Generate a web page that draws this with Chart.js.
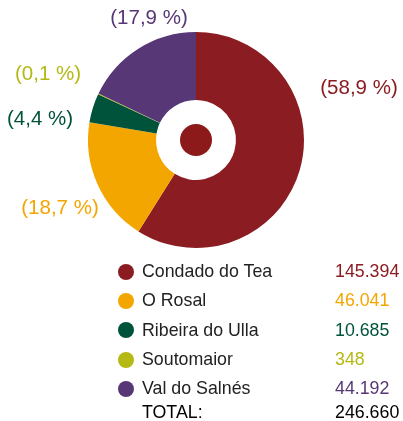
<!DOCTYPE html>
<html><head><meta charset="utf-8">
<script src="https://cdn.jsdelivr.net/npm/chart.js@4/dist/chart.umd.min.js"></script>
<style>
html,body{margin:0;padding:0;background:#fff;}
#wrap{position:relative;width:403px;height:421px;overflow:hidden;font-family:"Liberation Sans",Arial,sans-serif;}
#c{position:absolute;left:0;top:0;}
#legend{position:absolute;left:118px;top:257px;width:285px;font-size:17.8px;color:#222;}
.row{display:flex;align-items:center;height:29.3px;}
.dot{width:16px;height:16px;border-radius:50%;margin-right:8px;flex:none;}
.name{width:193px;}
.total{height:18px;line-height:18px;color:#000;}
.total .name{margin-left:24px;}
</style></head>
<body><div id="wrap"><canvas id="c" width="403" height="421"></canvas><div id="legend"></div></div>
<script>
const categories = ["Condado do Tea","O Rosal","Ribeira do Ulla","Soutomaior","Val do Salnés"];
const values = [145394, 46041, 10685, 348, 44192];
const valueLabels = ["145.394","46.041","10.685","348","44.192"];
const percentLabels = ["(58,9 %)","(18,7 %)","(4,4 %)","(0,1 %)","(17,9 %)"];
const totalLabel = "246.660";
const colors = ["#8B1D22","#F4A600","#00533B","#B4B914","#573775"];
// label offsets from the pie centre (layout, not data)
const labelOffsets = [[163,-52],[-136,68],[-156,-21],[-148,-66],[-47,-122]];

const lg = document.getElementById('legend');
categories.forEach((n,i)=>{
  const r=document.createElement('div');r.className='row';
  r.innerHTML=`<span class="dot" style="background:${colors[i]}"></span><span class="name">${n}</span><span style="color:${colors[i]}">${valueLabels[i]}</span>`;
  lg.appendChild(r);
});
const t=document.createElement('div');t.className='row total';
t.innerHTML=`<span class="name">TOTAL:</span><span>${totalLabel}</span>`;
lg.appendChild(t);

const extras = {
  id:'extras',
  afterDraw(chart){
    const ctx=chart.ctx;
    const arc=chart.getDatasetMeta(0).data[0];
    const cx=arc.x, cy=arc.y;
    ctx.save();
    ctx.beginPath();ctx.arc(cx,cy,16,0,Math.PI*2);ctx.fillStyle="#8C1A1A";ctx.fill();
    ctx.font='20.5px "Liberation Sans", Arial, sans-serif';
    ctx.textAlign='center';ctx.textBaseline='middle';
    percentLabels.forEach((p,i)=>{
      ctx.fillStyle=colors[i];
      ctx.fillText(p,cx+labelOffsets[i][0],cy+labelOffsets[i][1]);
    });
    ctx.restore();
  }
};

new Chart(document.getElementById('c'),{
  type:'doughnut',
  data:{labels:categories,datasets:[{data:values,backgroundColor:colors,borderWidth:0}]},
  options:{
    responsive:false,animation:false,cutout:'37%',
    layout:{padding:{left:88,right:99,top:32,bottom:173}},
    plugins:{legend:{display:false},tooltip:{enabled:false}}
  },
  plugins:[extras]
});
</script></body></html>
